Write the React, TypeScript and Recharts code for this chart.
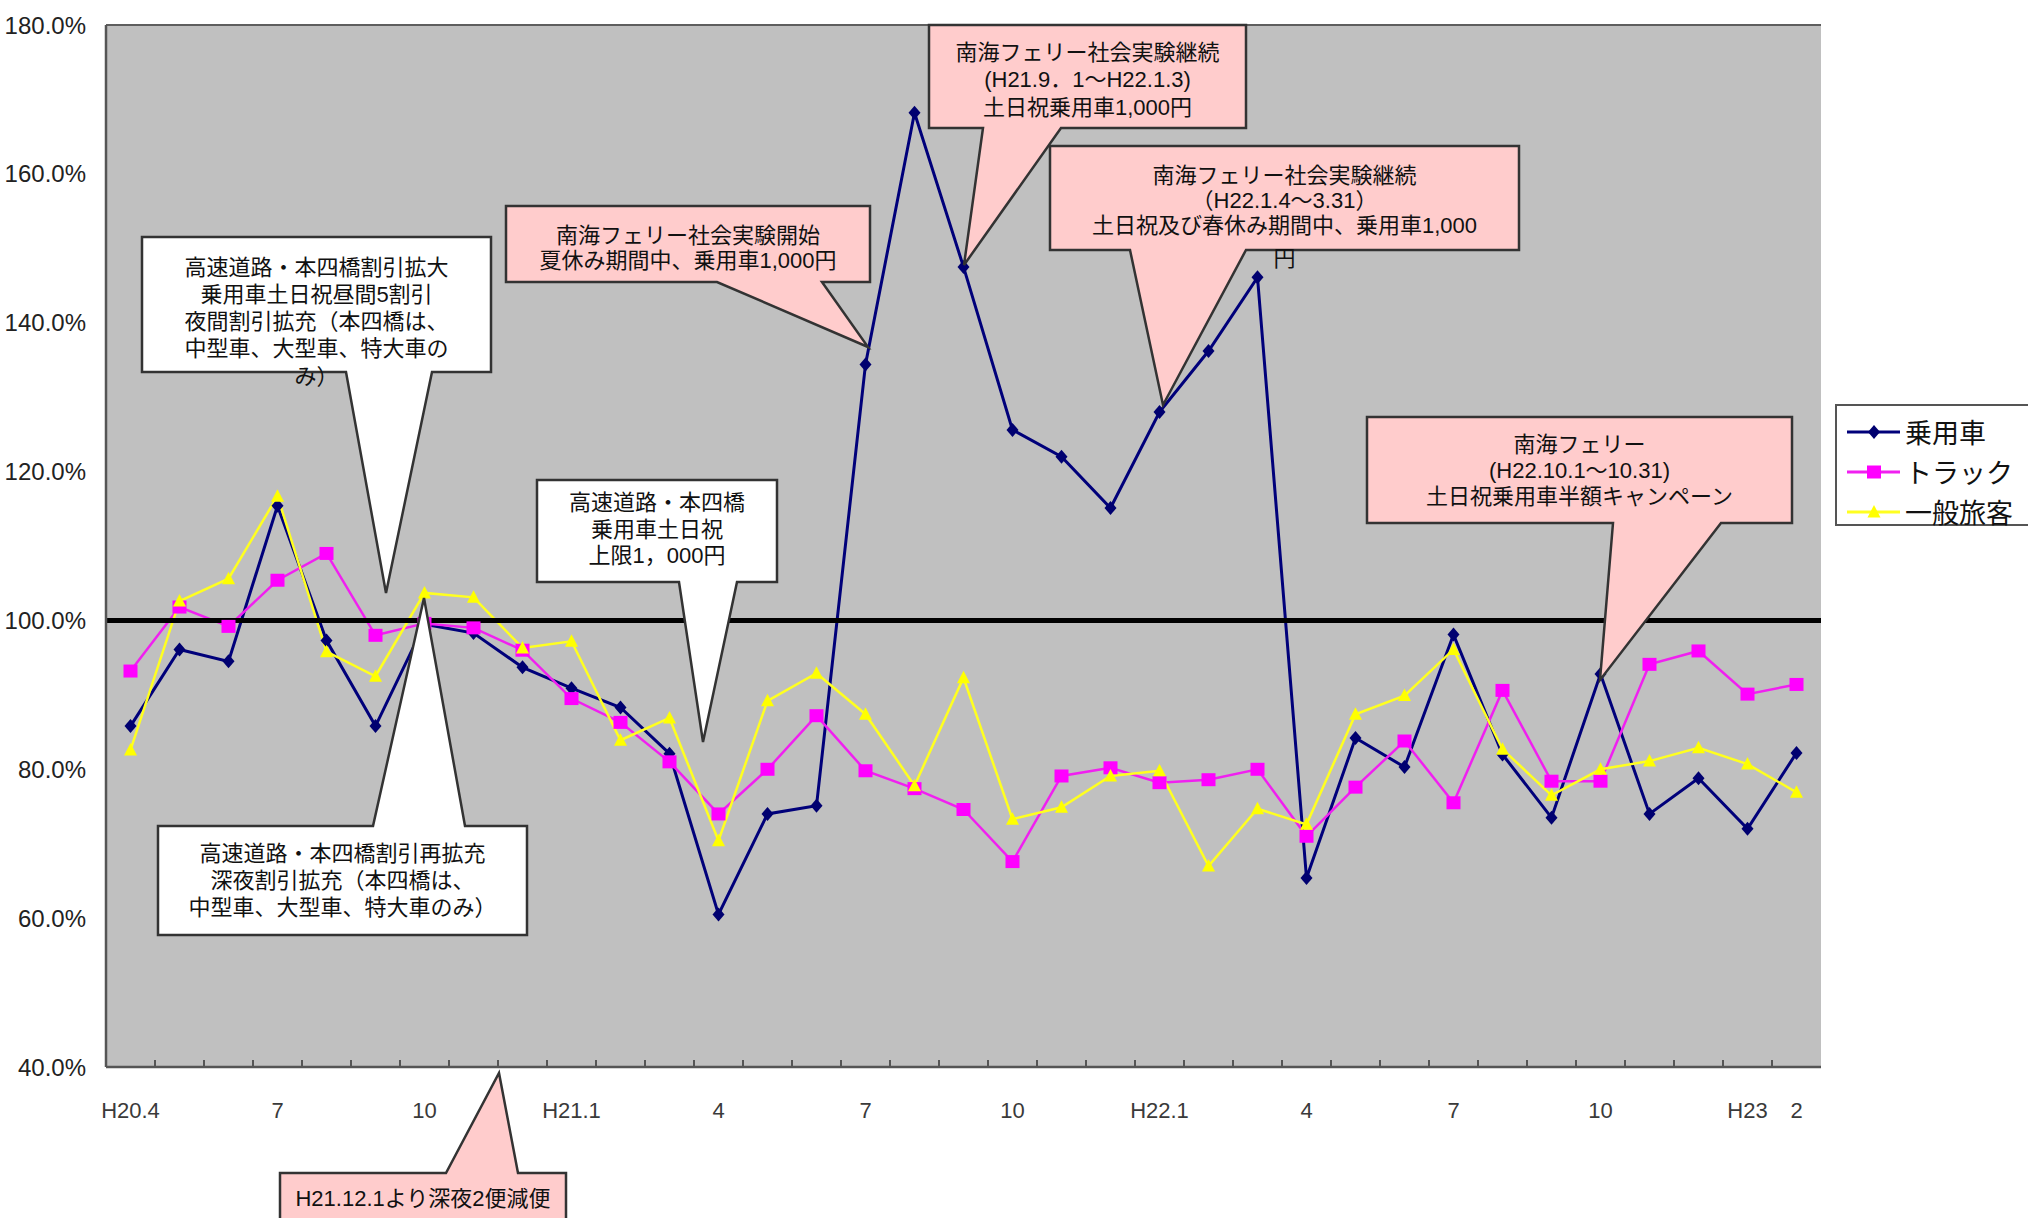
import React from 'react';
import { LineChart, Line, XAxis, YAxis, CartesianGrid, ReferenceLine, Legend } from 'recharts';

// ---- data ----
const months = [
  'H20.4', 'H20.5', 'H20.6', 'H20.7', 'H20.8', 'H20.9', 'H20.10', 'H20.11', 'H20.12',
  'H21.1', 'H21.2', 'H21.3', 'H21.4', 'H21.5', 'H21.6', 'H21.7', 'H21.8', 'H21.9',
  'H21.10', 'H21.11', 'H21.12', 'H22.1', 'H22.2', 'H22.3', 'H22.4', 'H22.5', 'H22.6',
  'H22.7', 'H22.8', 'H22.9', 'H22.10', 'H22.11', 'H22.12', 'H23.1', 'H23.2',
];
const tickLabels = [
  'H20.4', '', '', '7', '', '', '10', '', '', 'H21.1', '', '', '4', '', '', '7', '', '',
  '10', '', '', 'H22.1', '', '', '4', '', '', '7', '', '', '10', '', '', 'H23', '2',
];
const car = [
  85.8, 96.1, 94.5, 115.4, 97.3, 85.8, 99.5, 98.3, 93.7, 90.9, 88.3, 82.1, 60.5, 74.0, 75.1,
  134.4, 168.2, 147.5, 125.6, 122.0, 115.1, 128.0, 136.2, 146.1, 65.4, 84.2, 80.3, 98.1, 82.0,
  73.5, 92.8, 74.0, 78.8, 72.0, 82.2,
];
const truck = [
  93.2, 101.8, 99.2, 105.4, 109.0, 98.0, 99.6, 99.0, 96.0, 89.5, 86.3, 81.0, 74.0, 80.0, 87.2,
  79.8, 77.4, 74.6, 67.6, 79.1, 80.2, 78.2, 78.6, 80.0, 71.0, 77.6, 83.8, 75.5, 90.6, 78.4,
  78.4, 94.1, 95.9, 90.1, 91.4,
];
const passenger = [
  82.6, 102.6, 105.6, 116.7, 95.8, 92.5, 103.7, 103.1, 96.3, 97.2, 83.9, 86.9, 70.4, 89.2, 92.9,
  87.4, 77.8, 92.3, 73.3, 74.9, 79.1, 79.8, 67.0, 74.7, 72.6, 87.4, 89.9, 96.1, 82.7, 76.5,
  80.0, 81.1, 82.9, 80.7, 76.9,
];
const yTicks = [40, 60, 80, 100, 120, 140, 160, 180];
const seriesOrder = ['car', 'truck', 'passenger'];
const seriesNames = { car: '乗用車', truck: 'トラック', passenger: '一般旅客' };

const calloutTexts = [
  ['高速道路・本四橋割引拡大', '乗用車土日祝昼間5割引', '夜間割引拡充（本四橋は、', '中型車、大型車、特大車の', 'み）'],
  ['南海フェリー社会実験開始', '夏休み期間中、乗用車1,000円'],
  ['南海フェリー社会実験継続', '(H21.9．1～H22.1.3)', '土日祝乗用車1,000円'],
  ['南海フェリー社会実験継続', '（H22.1.4～3.31）', '土日祝及び春休み期間中、乗用車1,000', '円'],
  ['高速道路・本四橋', '乗用車土日祝', '上限1，000円'],
  ['高速道路・本四橋割引再拡充', '深夜割引拡充（本四橋は、', '中型車、大型車、特大車のみ）'],
  ['H21.12.1より深夜2便減便'],
  ['南海フェリー', '(H22.10.1～10.31)', '土日祝乗用車半額キャンペーン'],
];

const rows = months.map((m, i) => ({ month: m, car: car[i], truck: truck[i], passenger: passenger[i] }));

// ---- layout / style ----
const W = 2028;
const H = 1218;
const HALF_STEP = 24.5;
const JP = '"Noto Sans CJK JP", sans-serif';
const CALLOUT_FONT = '"Liberation Sans", "Noto Sans CJK JP", sans-serif';
const LAT = '"Liberation Sans", Arial, sans-serif';
const PINK = '#FFCCCC';

const calloutLayout = [
  { l: 142, t: 237, r: 491, b: 372, side: 'bottom', bl: 346, br: 432, tx: 386, ty: 593, fill: '#FFFFFF', top: 253.5, lh: 27.25, lastGap: 0 },
  { l: 506, t: 206, r: 870, b: 282, side: 'bottom', bl: 717, br: 822, tx: 868, ty: 347, fill: PINK, top: 222.5, lh: 25, lastGap: 0 },
  { l: 929, t: 25, r: 1246, b: 128, side: 'bottom', bl: 983, br: 1061, tx: 964, ty: 265, fill: PINK, top: 38.5, lh: 27.5, lastGap: 0 },
  { l: 1050, t: 146, r: 1519, b: 250, side: 'bottom', bl: 1130, br: 1246, tx: 1163, ty: 405, fill: PINK, top: 162.5, lh: 25, lastGap: 8 },
  { l: 537, t: 480, r: 777, b: 582, side: 'bottom', bl: 679, br: 737, tx: 703, ty: 742, fill: '#FFFFFF', top: 490, lh: 26.5, lastGap: 0 },
  { l: 158, t: 826, r: 527, b: 935, side: 'top', bl: 373, br: 465, tx: 424, ty: 598, fill: '#FFFFFF', top: 839.5, lh: 27, lastGap: 0 },
  { l: 280, t: 1173, r: 566, b: 1240, side: 'top', bl: 446, br: 518, tx: 499, ty: 1073, fill: PINK, top: 1184.5, lh: 27, lastGap: 0 },
  { l: 1367, t: 417, r: 1792, b: 523, side: 'bottom', bl: 1613, br: 1721, tx: 1600, ty: 680, fill: PINK, top: 432, lh: 26, lastGap: 0 },
];

function calloutPath(c: any) {
  const { l, t, r, b, bl, br, tx, ty } = c;
  if (c.side === 'bottom') {
    return `M${l},${t} L${r},${t} L${r},${b} L${br},${b} L${tx},${ty} L${bl},${b} L${l},${b} Z`;
  }
  return `M${l},${t} L${bl},${t} L${tx},${ty} L${br},${t} L${r},${t} L${r},${b} L${l},${b} Z`;
}

const markerPath = (kind: string, cx: number, cy: number) => {
  if (kind === 'car') return `M${cx},${cy - 7} L${cx + 6},${cy} L${cx},${cy + 7} L${cx - 6},${cy} Z`;
  if (kind === 'truck') return `M${cx - 7},${cy - 6.5} L${cx + 7},${cy - 6.5} L${cx + 7},${cy + 6.5} L${cx - 7},${cy + 6.5} Z`;
  return `M${cx},${cy - 7} L${cx + 6.5},${cy + 5.5} L${cx - 6.5},${cy + 5.5} Z`;
};
const markerFill: Record<string, string> = { car: '#000070', truck: '#FF00FF', passenger: '#FFFF00' };
const lineColor: Record<string, string> = { car: '#00007A', truck: '#F020F0', passenger: '#FFFF20' };

const makeDot = (kind: string) => (props: any) => {
  const { cx, cy, index } = props;
  if (cx == null || cy == null) return <g key={`${kind}-${index}`} />;
  return <path key={`${kind}-${index}`} d={markerPath(kind, cx, cy)} fill={markerFill[kind]} stroke="none" />;
};

const XTick = (props: any) => {
  const { x, y, index } = props;
  const label = tickLabels[index] ?? '';
  return (
    <g>
      {index > 0 && (
        <line x1={x - HALF_STEP} x2={x - HALF_STEP} y1={y} y2={y - 7} stroke="#555" strokeWidth={2} />
      )}
      {label && (
        <text x={x} y={y + 43} textAnchor="middle" dominantBaseline="central" fontSize={22} fontFamily={LAT} fill="#3a3a3a">
          {label}
        </text>
      )}
    </g>
  );
};

const LegendContent = (props: any) => {
  const payload = [...(props.payload || [])].sort(
    (a: any, b: any) => seriesOrder.indexOf(a.dataKey) - seriesOrder.indexOf(b.dataKey),
  );
  return (
    <div style={{ width: 200, height: 122, border: '2px solid #555', background: '#fff', boxSizing: 'border-box', position: 'relative' }}>
      {payload.map((entry: any, i: number) => {
        const key = entry.dataKey as string;
        return (
          <div key={key} style={{ position: 'absolute', left: 0, top: 6 + i * 40, height: 40, display: 'flex', alignItems: 'center' }}>
            <svg width={66} height={40} style={{ display: 'block' }}>
              <line x1={10} x2={63} y1={20} y2={20} stroke={lineColor[key]} strokeWidth={3} />
              <path d={markerPath(key, 37, 20)} fill={markerFill[key]} />
            </svg>
            <span style={{ fontFamily: JP, fontSize: 27, color: '#111', lineHeight: '40px', marginLeft: 2 }}>{entry.value}</span>
          </div>
        );
      })}
    </div>
  );
};

export default function App() {
  return (
    <div style={{ position: 'absolute', left: 0, top: 0, width: W, height: H, overflow: 'hidden', background: '#fff' }}>
      <LineChart width={W} height={H} data={rows} margin={{ top: 25, right: 207, bottom: 91, left: 0 }}>
        <CartesianGrid horizontal vertical={false} fill="#C0C0C0" stroke="#5E5E5E" strokeWidth={2} />
        <XAxis
          dataKey="month"
          type="category"
          interval={0}
          height={60}
          padding={{ left: HALF_STEP, right: HALF_STEP }}
          tickSize={0}
          tickMargin={0}
          tickLine={false}
          axisLine={{ stroke: '#555', strokeWidth: 2.5 }}
          tick={<XTick />}
        />
        <YAxis
          yAxisId="left"
          width={106}
          domain={[40, 180]}
          ticks={yTicks}
          type="number"
          allowDataOverflow
          tickLine={false}
          tickSize={0}
          tickMargin={20}
          axisLine={{ stroke: '#555', strokeWidth: 2.5 }}
          tickFormatter={(v: number) => `${v.toFixed(1)}%`}
          tick={{ fontSize: 24, fontFamily: LAT, fill: '#222' }}
        />
        <YAxis
          yAxisId="right"
          orientation="right"
          width={0}
          domain={[40, 180]}
          type="number"
          tick={false}
          tickLine={false}
          axisLine={{ stroke: '#8A8A8A', strokeWidth: 2.5 }}
        />
        <Line yAxisId="left" dataKey="car" name={seriesNames.car} stroke={lineColor.car} strokeWidth={3} dot={makeDot('car')} activeDot={false} isAnimationActive={false} />
        <Line yAxisId="left" dataKey="truck" name={seriesNames.truck} stroke={lineColor.truck} strokeWidth={2.5} dot={makeDot('truck')} activeDot={false} isAnimationActive={false} />
        <Line yAxisId="left" dataKey="passenger" name={seriesNames.passenger} stroke={lineColor.passenger} strokeWidth={2.5} dot={makeDot('passenger')} activeDot={false} isAnimationActive={false} />
        <ReferenceLine yAxisId="left" y={100} stroke="#000" strokeWidth={5} />
        <Legend
          layout="vertical"
          align="center"
          verticalAlign="middle"
          content={<LegendContent />}
          wrapperStyle={{ position: 'absolute', left: 1835, top: 404, width: 200, height: 122 }}
        />
      </LineChart>
      <svg width={W} height={H} style={{ position: 'absolute', left: 0, top: 0, pointerEvents: 'none' }}>
        {calloutLayout.map((c, i) => (
          <path key={i} d={calloutPath(c)} fill={c.fill} stroke="#333" strokeWidth={2.5} strokeLinejoin="miter" />
        ))}
      </svg>
      {calloutLayout.map((c, i) => {
        const lines = calloutTexts[i];
        return (
          <div
            key={i}
            style={{
              position: 'absolute',
              left: c.l,
              top: c.top,
              width: c.r - c.l,
              textAlign: 'center',
              fontFamily: CALLOUT_FONT,
              fontSize: 22,
              lineHeight: `${c.lh}px`,
              color: '#111',
              whiteSpace: 'nowrap',
              pointerEvents: 'none',
            }}
          >
            {lines.map((line, j) => (
              <React.Fragment key={j}>
                {j > 0 && <br />}
                {j === lines.length - 1 && c.lastGap > 0 ? (
                  <span style={{ display: 'inline-block', paddingTop: c.lastGap }}>{line}</span>
                ) : (
                  line
                )}
              </React.Fragment>
            ))}
          </div>
        );
      })}
    </div>
  );
}
